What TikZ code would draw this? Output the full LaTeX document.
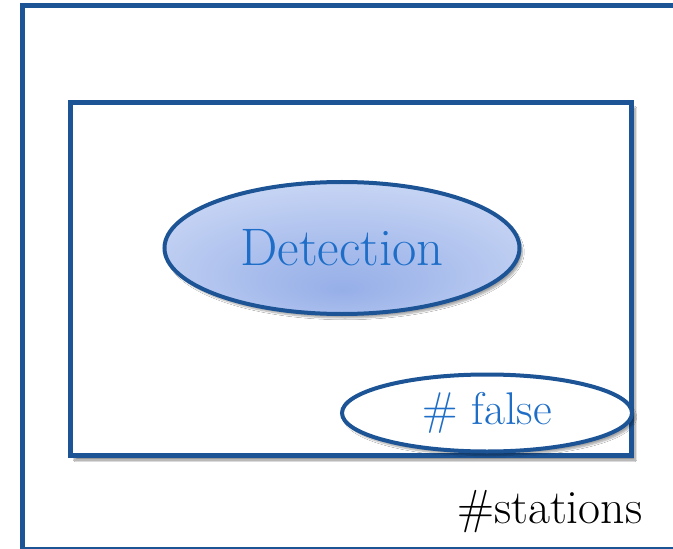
\documentclass[tikz,border=0pt]{standalone}
\usepackage{tikz}
\usetikzlibrary{shapes.geometric, shadows.blur, positioning}
\definecolor{frameblue}{RGB}{28,84,150}
\definecolor{textblue}{RGB}{30,110,200}
\definecolor{shadeblue}{RGB}{150,175,232}
\definecolor{paleblue}{RGB}{236,241,253}
\pgfdeclareradialshading{detshade}{\pgfpoint{0bp}{-16bp}}{%
  color(0bp)=(shadeblue); color(12bp)=(shadeblue!80!paleblue);
  color(30bp)=(paleblue!55!shadeblue); color(50bp)=(paleblue)}
\tikzset{
    framebox/.style={rectangle, draw=frameblue, line width=5bp},
    setbox/.style={rectangle, draw=frameblue, line width=5bp, fill=white,
        blur shadow={shadow xshift=4bp, shadow yshift=-5bp, shadow blur steps=8, shadow opacity=45}},
    event/.style={ellipse, draw=frameblue, line width=4bp, text=textblue, inner sep=0pt,
        blur shadow={shadow xshift=3bp, shadow yshift=-4bp, shadow blur steps=6, shadow opacity=35}},
}

\begin{document}
\begin{tikzpicture}[x=1bp, y=-1bp]
    \useasboundingbox[fill=white] (0,0) rectangle (673,549);
    % Outer frame, cut by the page on the right and at the bottom
    \draw[framebox] (22,6) rectangle (700,549);
    % Inner set and events
    \node[setbox, minimum width=560bp, minimum height=352bp] (space) at (351,279) {};
    \node[event, shading=detshade, minimum width=355bp, minimum height=132bp,
        font=\fontsize{53}{58}\selectfont] (detect) at (342,248) {Detection};
    \node[event, fill=white, minimum width=290bp, minimum height=77bp,
        font=\fontsize{46}{50}\selectfont] (false) at (487,413) {\# false};
    \node[font=\fontsize{48}{52}\selectfont, anchor=east] (stations) at (646,512) {\#stations};
\end{tikzpicture}
\end{document}
